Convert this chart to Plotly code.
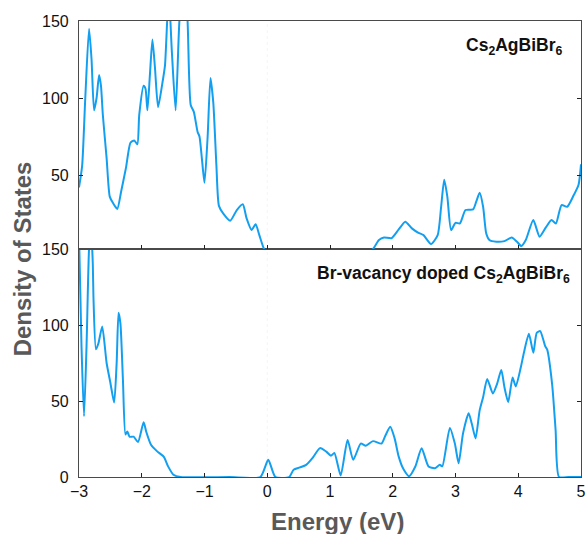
import plotly.graph_objects as go

# Pristine Cs2AgBiBr6 (top panel)
E_top = [-3.0, -2.95, -2.90, -2.84, -2.80, -2.76, -2.72, -2.68, -2.65, -2.62, -2.56, -2.51, -2.46,
         -2.39, -2.33, -2.25, -2.18, -2.12, -2.07, -2.04, -1.97, -1.94, -1.91, -1.87, -1.83, -1.79,
         -1.74, -1.67, -1.63, -1.57, -1.52, -1.46, -1.40, -1.33, -1.27, -1.22, -1.17, -1.11, -1.08,
         -1.04, -1.00, -0.95, -0.905, -0.86, -0.81, -0.77, -0.70, -0.59, -0.485, -0.39, -0.33, -0.25,
         -0.185, -0.126, -0.05, 0.0, 0.8, 1.6, 1.685, 1.78, 1.86, 1.98, 2.095, 2.2, 2.305, 2.41, 2.49,
         2.61, 2.716, 2.77, 2.82, 2.87, 2.93, 3.0, 3.07, 3.16, 3.28, 3.33, 3.385, 3.44, 3.49, 3.54,
         3.65, 3.78, 3.895, 3.98, 4.05, 4.12, 4.24, 4.34, 4.44, 4.53, 4.6, 4.69, 4.78, 4.885, 4.96, 5.0]
DOS_top = [42, 56, 100, 145, 125, 92, 100, 115, 108, 89, 61, 36, 32,
           28, 39, 55, 71, 72.5, 70, 89, 108, 106, 92, 115, 138, 120,
           94, 110, 121, 168, 130, 92, 150, 182, 150, 95.5, 91, 78, 75,
           60, 45, 75, 113, 97, 56, 30, 25, 20.4, 27.3, 31, 22, 14.3,
           18, 11, 2, 0, 0, 0, 2, 7.8, 9.5, 9, 14.7, 19.7, 15.4, 12.5, 11,
           5.2, 11, 29, 47, 36, 14.3, 19, 18.6, 27.3, 27.7, 32.7, 38.5, 29.4, 12, 7.8,
           6.7, 7.1, 9.5, 6.7, 3.9, 7.8, 20.8, 10, 16, 20.8, 18.6, 30.5, 29.4, 37, 43.5, 57]

# Br-vacancy doped Cs2AgBiBr6 (bottom panel)
E_bot = [-3.0, -2.96, -2.92, -2.88, -2.84, -2.81, -2.78, -2.77, -2.73, -2.69, -2.63, -2.56, -2.50,
         -2.44, -2.40, -2.37, -2.34, -2.30, -2.26, -2.23, -2.195, -2.13, -2.06, -1.97, -1.93, -1.85,
         -1.75, -1.65, -1.58, -1.495, -1.38, -0.6, -0.11, 0.016, 0.13, 0.35, 0.42, 0.52, 0.62, 0.73,
         0.84, 0.94, 1.015, 1.07, 1.17, 1.28, 1.37, 1.49, 1.57, 1.685, 1.82, 1.88, 1.96, 2.03, 2.095,
         2.17, 2.26, 2.36, 2.46, 2.57, 2.67, 2.75, 2.79, 2.91, 2.99, 3.05, 3.12, 3.21, 3.26, 3.32,
         3.385, 3.44, 3.505, 3.595, 3.66, 3.73, 3.78, 3.84, 3.91, 3.96, 4.04, 4.09, 4.17, 4.24, 4.295,
         4.35, 4.43, 4.46, 4.54, 4.595, 4.65, 4.8, 5.0]
DOS_bot = [160, 86, 40, 86, 150, 165, 140, 119, 84, 88, 99, 75, 62,
           49, 75, 108, 101, 64, 28, 30, 26.5, 26.5, 23, 36, 30, 21,
           16.7, 13.4, 7, 1.5, 0, 0, 0, 11.3, 0, 0, 4.8, 6.3, 8, 13,
           19, 16.7, 14, 15.8, 1, 24.3, 11.3, 22, 20.6, 23.6, 22, 27, 33, 25.4, 13.4,
           5.2, 0.5, 6.9, 18.9, 6.9, 5.8, 8, 7, 32.3, 22, 9, 28.7, 42, 35, 25.4,
           43.8, 52.5, 64.5, 55, 61, 70.4, 59, 49.3, 65.5, 59.5, 72, 81.8, 94.2, 81.8, 94.9,
           96, 86, 84, 61, 31, 0, 0, 0]

x_ticks = [-3, -2, -1, 0, 1, 2, 3, 4, 5]
y_ticks_top = [50, 100, 150]
y_ticks_bot = [0, 50, 100, 150]

LINE = "#139ff0"
AX = "#4a4a4a"
FONT = "Liberation Sans, Arial, sans-serif"

fig = go.Figure()
fig.add_trace(go.Scatter(x=E_top, y=DOS_top, mode="lines", xaxis="x2", yaxis="y2",
                         line=dict(color=LINE, width=2, shape="spline", smoothing=0.6),
                         showlegend=False, hoverinfo="skip"))
fig.add_trace(go.Scatter(x=E_bot, y=DOS_bot, mode="lines", xaxis="x", yaxis="y",
                         line=dict(color=LINE, width=2, shape="spline", smoothing=0.6),
                         showlegend=False, hoverinfo="skip"))

common_x = dict(range=[-3, 5], tickvals=x_ticks, ticks="inside", ticklen=4, tickwidth=1.2,
                tickcolor="#222", showline=True, linecolor=AX, linewidth=1.2, mirror=True,
                showgrid=False, zeroline=False)
common_y = dict(ticks="inside", ticklen=4, tickwidth=1.2, tickcolor="#222", showline=True,
                linecolor=AX, linewidth=1.2, mirror="ticks", showgrid=False, zeroline=False,
                ticklabelstandoff=6)

fig.update_layout(
    width=587, height=534,
    margin=dict(l=79, r=1, t=21, b=57),
    paper_bgcolor="white", plot_bgcolor="white",
    font=dict(family=FONT, size=16, color="#111"),
    xaxis=dict(**common_x, anchor="y", domain=[0, 1], tickfont=dict(size=16, color="#111"),
               ticklabeloverflow="allow"),
    xaxis2=dict(**common_x, anchor="y2", domain=[0, 1], showticklabels=False, matches="x"),
    yaxis=dict(**common_y, anchor="x", domain=[0, 0.5], range=[0, 150], tickvals=y_ticks_bot,
               tickfont=dict(size=16, color="#111")),
    yaxis2=dict(**common_y, anchor="x2", domain=[0.5, 1], range=[2, 150], tickvals=y_ticks_top,
                tickfont=dict(size=16, color="#111")),
    shapes=[dict(type="line", xref="x", yref="paper", x0=0, x1=0, y0=0, y1=1,
                 line=dict(color="#f5f5f5", width=1, dash="dot"), layer="below")],
    annotations=[
        dict(text="<b>Cs<sub>2</sub>AgBiBr<sub>6</sub></b>", xref="paper", yref="paper",
             x=0.966, y=0.944, xanchor="right", yanchor="middle", showarrow=False,
             font=dict(size=17.5, color="#111", family=FONT)),
        dict(text="<b>Br-vacancy doped Cs<sub>2</sub>AgBiBr<sub>6</sub></b>", xref="paper", yref="paper",
             x=0.982, y=0.445, xanchor="right", yanchor="middle", showarrow=False,
             font=dict(size=17.5, color="#111", family=FONT)),
        dict(text="<b>Energy (eV)</b>", xref="paper", yref="paper", x=0.515, y=-0.097,
             xanchor="center", yanchor="middle", showarrow=False,
             font=dict(size=24, color="#595959", family=FONT)),
        dict(text="<b>Density of States</b>", xref="paper", yref="paper", x=-0.113, y=0.478,
             xanchor="center", yanchor="middle", textangle=-90, showarrow=False,
             font=dict(size=24, color="#595959", family=FONT)),
    ],
)

fig.write_html("out.html")
